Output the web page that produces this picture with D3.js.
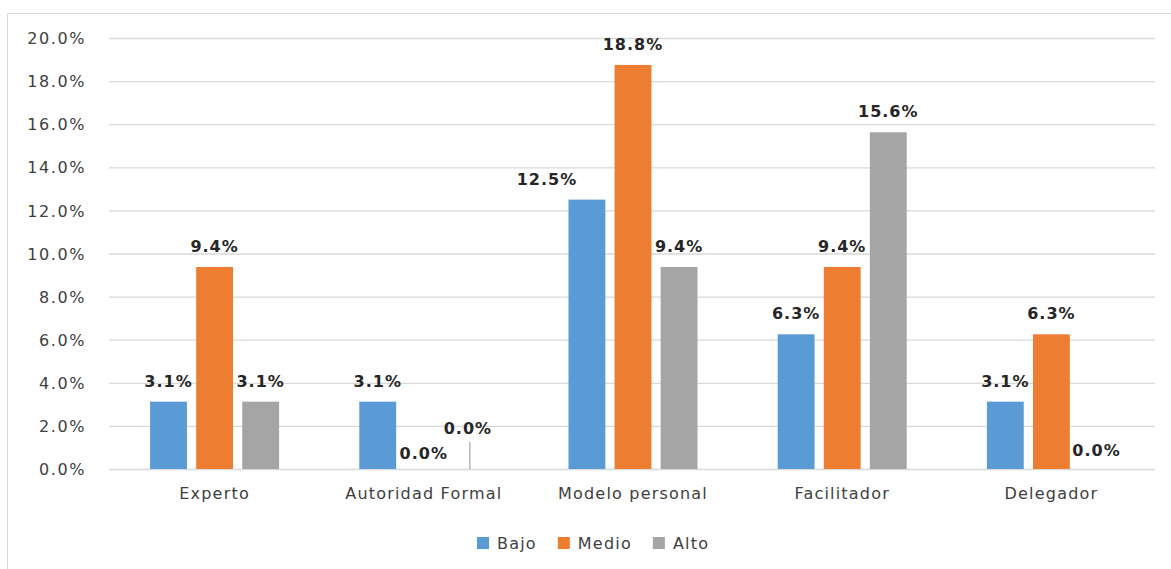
<!DOCTYPE html>
<html>
<head>
<meta charset="utf-8">
<script src="https://cdn.jsdelivr.net/npm/d3@7"></script>
<style>
  body { margin: 0; background: #fff; }
  text { font-family: "DejaVu Sans", sans-serif; }
</style>
</head>
<body>
<svg id="chart"></svg>
<script>
// data
var categories = ["Experto", "Autoridad Formal", "Modelo personal", "Facilitador", "Delegador"];
var seriesNames = ["Bajo", "Medio", "Alto"];
var bajo  = [3.125, 3.125, 12.5, 6.25, 3.125];
var medio = [9.375, 0, 18.75, 9.375, 6.25];
var alto  = [3.125, 0, 9.375, 15.625, 0];
var yTicks = [0, 2, 4, 6, 8, 10, 12, 14, 16, 18, 20];

var colors = ["#5B9BD5", "#ED7D31", "#A5A5A5"];
var W = 1171, H = 569;

var rows = [];
categories.forEach(function(c, i) {
    [bajo, medio, alto].forEach(function(s, j) {
        rows.push({ cat: c, ci: i, series: seriesNames[j], si: j, value: s[i] });
    });
});

var svg = d3.select("#chart")
    .attr("width", W)
    .attr("height", H);

svg.append("rect").attr("width", W).attr("height", H).attr("fill", "#fff");

// chart area border
svg.append("rect")
    .attr("x", 7.5).attr("y", 13.5)
    .attr("width", 1200).attr("height", 600)
    .attr("fill", "none")
    .attr("stroke", "#d9d9d9");

var x0 = d3.scaleBand()
    .domain(categories)
    .range([110, 1156])
    .paddingInner(0)
    .paddingOuter(0);

var x1 = d3.scaleBand()
    .domain(seriesNames)
    .range([0, x0.bandwidth()])
    .paddingInner(0.2)
    .paddingOuter(0.87);

var y = d3.scaleLinear()
    .domain([0, 20])
    .range([469, 38]);

// gridlines + y labels
var yAxis = svg.append("g")
    .attr("transform", "translate(109,0)")
    .call(d3.axisLeft(y)
        .tickValues(yTicks)
        .tickSize(-1046)
        .tickPadding(23)
        .tickFormat(function(d) { return d.toFixed(1) + "%"; }));

yAxis.select(".domain").remove();
yAxis.selectAll("line").attr("stroke", "#d9d9d9").attr("stroke-width", 1.3);
yAxis.selectAll("text")
    .attr("fill", "#404040")
    .style("font-size", "16px")
    .style("letter-spacing", "1.6px")
    .attr("dy", "0.35em");

// category labels
var xAxis = svg.append("g")
    .attr("transform", "translate(0,469)")
    .call(d3.axisBottom(x0).tickSize(0).tickPadding(19));
xAxis.select(".domain").remove();
xAxis.selectAll("text")
    .attr("fill", "#404040")
    .style("font-size", "16px")
    .style("letter-spacing", "1.2px");

// bars
svg.selectAll("rect.bar")
    .data(rows)
    .enter()
    .append("rect")
    .attr("class", "bar")
    .attr("x", function(d) { return x0(d.cat) + x1(d.series); })
    .attr("y", function(d) { return y(d.value); })
    .attr("width", x1.bandwidth())
    .attr("height", function(d) { return y(0) - y(d.value); })
    .attr("fill", function(d) { return colors[d.si]; });

// leader line for the Autoridad Formal / Alto label
var leader = rows.filter(function(d) { return d.ci == 1 && d.si == 2; })[0];
var lx0 = x0(leader.cat) + x1(leader.series) + x1.bandwidth() / 2;
svg.append("line")
    .attr("x1", lx0).attr("x2", lx0)
    .attr("y1", y(0) - 27)
    .attr("y2", y(0))
    .attr("stroke", "#a6a6a6")
    .attr("stroke-width", 1.2);

// value labels (some nudged like in the original)
var labelShift = {
    "1-1": { dx: 0, dy: 5 },
    "1-2": { dx: -2, dy: -20 },
    "2-0": { dx: -40, dy: 0 },
    "4-2": { dx: -1, dy: 2 }
};

svg.selectAll("text.lbl")
    .data(rows)
    .enter()
    .append("text")
    .attr("class", "lbl")
    .attr("x", function(d) {
        var s = labelShift[d.ci + "-" + d.si];
        return x0(d.cat) + x1(d.series) + x1.bandwidth() / 2 + (s ? s.dx : 0);
    })
    .attr("y", function(d) {
        var s = labelShift[d.ci + "-" + d.si];
        return y(d.value) - 15 + (s ? s.dy : 0);
    })
    .attr("text-anchor", "middle")
    .attr("fill", "#262626")
    .style("font-size", "16px")
    .style("font-weight", "bold")
    .style("letter-spacing", "1px")
    .text(function(d) { return d.value.toFixed(1) + "%"; });

// legend
var lg = svg.append("g").attr("transform", "translate(477,543)");
var lx = 0;
seriesNames.forEach(function(name, i) {
    lg.append("rect")
        .attr("x", lx).attr("y", -6)
        .attr("width", 12).attr("height", 12)
        .attr("fill", colors[i]);
    var t = lg.append("text")
        .attr("x", lx + 20)
        .attr("dy", "0.35em")
        .attr("fill", "#404040")
        .style("font-size", "16px")
        .style("letter-spacing", "1.2px")
        .text(name);
    lx += 20 + t.node().getComputedTextLength() + 21;
});
</script>
</body>
</html>
